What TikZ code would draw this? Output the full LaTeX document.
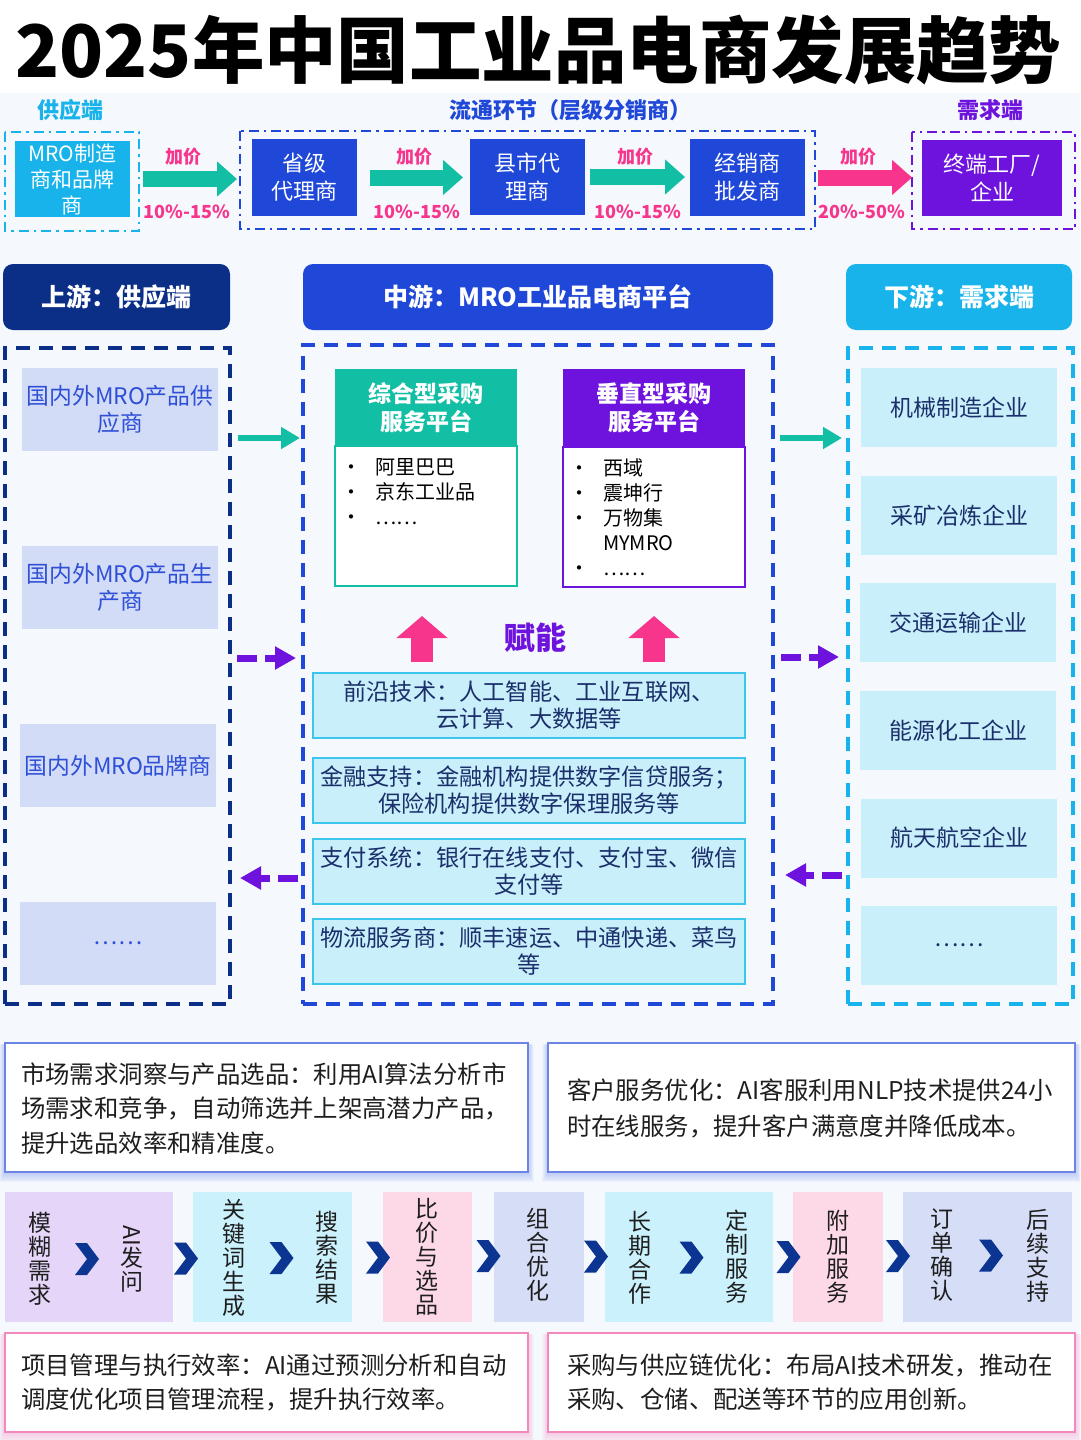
\documentclass[tikz,border=0pt]{standalone}
\usepackage{fontspec}
\usepackage{graphicx}
\setmainfont{Noto Sans CJK SC}
\usetikzlibrary{arrows.meta,calc}
\pgfdeclarelayer{back}
\pgfdeclarelayer{glow}
\pgfsetlayers{back,glow,main}
\definecolor{bgc}{HTML}{F5F8FD}
\definecolor{cyanM}{HTML}{17B3EA}
\definecolor{blueM}{HTML}{1F47D8}
\definecolor{purpleM}{HTML}{6E12DE}
\definecolor{tealM}{HTML}{12BFA5}
\definecolor{pinkM}{HTML}{F7358C}
\definecolor{navyM}{HTML}{0B2F86}
\definecolor{labelBlue}{HTML}{2E4FD6}
\definecolor{liteBlue}{HTML}{D2DCF7}
\definecolor{liteCyan}{HTML}{C9EFFB}
\definecolor{darkText}{HTML}{1B2F6B}
\definecolor{svcBorder}{HTML}{3CC6EE}
\definecolor{lavM}{HTML}{E5D5F8}
\definecolor{cyM}{HTML}{CBF1FC}
\definecolor{pkM}{HTML}{FDD9E8}
\definecolor{periM}{HTML}{D5DDF7}
\definecolor{chevc}{HTML}{0C3592}
\definecolor{noteBlue}{HTML}{3B5BDB}
\definecolor{notePink}{HTML}{F06AAE}
\definecolor{glowB}{HTML}{6F8CF0}
\definecolor{glowP}{HTML}{F58CC4}
\definecolor{inkM}{HTML}{1E1E1E}
\newcommand\FS[2]{\fontsize{#1}{#2}\selectfont}
\newcommand\bul{\makebox[34pt][l]{•}}
\begin{document}
\begin{tikzpicture}[x=1pt,y=-1pt,every node/.style={inner sep=0pt,outer sep=0pt}]
\tikzset{
 hbox/.style={fill=#1,text=white,align=center,font=\FS{21}{26}},
 lbl/.style={font=\bfseries\FS{22}{26}},
 addl/.style={text=pinkM,font=\bfseries\FS{18}{20}},
 barrow/.style={line width=16pt,-{Triangle[length=20pt,width=34pt]}},
 ddash/.style={line width=2.5pt,dash pattern=on 10pt off 5pt on 2.5pt off 5pt},
 colhead/.style={fill=#1,rounded corners=10pt,text=white,font=\bfseries\FS{25}{30},minimum height=66pt},
 cont/.style={draw=#1,line width=3.5pt,dash pattern=on 14pt off 9pt},
 litem/.style={fill=liteBlue,text=labelBlue,align=center,font=\FS{22.8}{27},minimum width=196pt,minimum height=83pt},
 ritem/.style={fill=liteCyan,text=darkText,font=\FS{23}{27},minimum width=196pt,minimum height=79pt},
 phead/.style={fill=#1,text=white,align=center,font=\bfseries\FS{23}{28},minimum width=182pt,minimum height=77pt},
 pbody/.style={draw=#1,line width=2pt,fill=white,minimum width=182pt,minimum height=140pt},
 plist/.style={align=left,font=\FS{20}{25},anchor=north west,text=black},
 svc/.style={fill=liteCyan,draw=svcBorder,line width=2pt,align=center,text=darkText,font=\FS{23.2}{27},minimum width=432pt,minimum height=65pt},
 thinarr/.style={line width=6pt,-{Triangle[length=19pt,width=21pt]}},
 dasharr/.style={line width=7pt,dash pattern=on 20pt off 8pt,-{Triangle[length=21pt,width=22pt]}},
 uparr/.style={line width=22pt,pinkM,-{Triangle[length=22pt,width=50pt]}},
 note/.style={fill=white,draw=#1,line width=1.5pt},
 notetxt/.style={anchor=west,align=left,text=inkM,font=\FS{24.4}{34.5}},
 grp/.style={fill=#1,minimum height=130pt},
 vtxt/.style={align=center,font=\FS{23}{24},text=inkM},
 chev/.pic={\fill[chevc] (-11,-16) -- (1,-16) -- (13,0) -- (1,16) -- (-11,16) -- (1,0) -- cycle;}
}
\useasboundingbox (0,0) rectangle (1080,1440);
\begin{pgfonlayer}{back}
\fill[bgc] (0,0) rectangle (1080,1440);
\fill[white] (0,0) rectangle (1080,93);
\end{pgfonlayer}

% title
\node (title) at (538.5,50) {\resizebox{1045pt}{!}{\bfseries 2025年中国工业品电商发展趋势}};

% header chain
\node[lbl,text=cyanM] (hsup) at (70,110) {供应端};
\node[lbl,text=blueM] (hcir) at (570,110) {流通环节（层级分销商）};
\node[lbl,text=purpleM] (hdem) at (990,110) {需求端};
\draw[ddash,cyanM] (5,132) rectangle (139,231);
\draw[ddash,blueM] (240,131) rectangle (815,229);
\draw[ddash,purpleM] (912,132) rectangle (1075,229);

\node[hbox=cyanM,minimum width=115pt,minimum height=76pt] (mro) at (72.5,179) {MRO制造\\商和品牌\\商};
\node[hbox=blueM,minimum width=105pt,minimum height=77pt,font=\FS{22}{28}] (prov) at (304.5,177.5) {省级\\代理商};
\node[hbox=blueM,minimum width=115pt,minimum height=76pt,font=\FS{22}{28}] (cnty) at (527.5,177) {县市代\\理商};
\node[hbox=blueM,minimum width=115pt,minimum height=77pt,font=\FS{22}{28}] (whol) at (747.5,177.5) {经销商\\批发商};
\node[hbox=purpleM,minimum width=140pt,minimum height=76pt,font=\FS{22}{28}] (term) at (992,178) {终端工厂/\\企业};

\draw[barrow,tealM,shorten <=13pt,shorten >=15pt] (mro.east) -- (mro.east -| prov.west);
\draw[barrow,tealM,shorten <=13pt,shorten >=7pt] (prov.east) -- (prov.east -| cnty.west);
\draw[barrow,tealM,shorten <=5pt,shorten >=5pt] (cnty.east) -- (cnty.east -| whol.west);
\draw[barrow,pinkM,shorten <=13pt,shorten >=10pt] (whol.east) -- (whol.east -| term.west);

\node[addl] (a1) at (183,157) {加价};
\node[addl] (a2) at (414,157) {加价};
\node[addl] (a3) at (635,157) {加价};
\node[addl] (a4) at (858,157) {加价};
\node[addl] (p1) at (187,212) {10\%-15\%};
\node[addl] (p2) at (417,212) {10\%-15\%};
\node[addl] (p3) at (638,212) {10\%-15\%};
\node[addl] (p4) at (862,212) {20\%-50\%};

% column heads
\node[colhead=navyM,minimum width=227pt] (uph) at (116.5,297) {上游：供应端};
\node[colhead=blueM,minimum width=470pt] (midh) at (538,297) {中游：MRO工业品电商平台};
\node[colhead=cyanM,minimum width=226pt] (dnh) at (959,297) {下游：需求端};

% containers
\node[cont=navyM,minimum width=225pt,minimum height=656pt] (Lbox) at (117.5,676) {};
\node[cont=blueM,minimum width=470pt,minimum height=659pt] (Mbox) at (538,674.5) {};
\node[cont=cyanM,minimum width=225pt,minimum height=656pt] (Rbox) at (960.5,676) {};

% left items
\node[litem] (L1) at (120,409.5) {国内外MRO产品供\\应商};
\node[litem] (L2) at (120,587.5) {国内外MRO产品生\\产商};
\node[litem] (L3) at (118,765.5) {国内外MRO品牌商};
\node[litem] (L4) at (118,943.5) {……};

% right items
\node[ritem] (R1) at (959,407.5) {机械制造企业};
\node[ritem] (R2) at (959,515.5) {采矿冶炼企业};
\node[ritem] (R3) at (958,622.5) {交通运输企业};
\node[ritem] (R4) at (958,730.5) {能源化工企业};
\node[ritem] (R5) at (959,838) {航天航空企业};
\node[ritem] (R6) at (959,945.5) {……};

% platforms
\node[pbody=tealM] (zbody) at (426,515.5) {};
\node[phead=tealM] (zhead) at (426,407.5) {综合型采购\\服务平台};
\node[plist] (zlist) at (341,458) {\bul 阿里巴巴\\\bul 京东工业品\\\bul ……};
\node[pbody=purpleM] (cbody) at (654,516.5) {};
\node[phead=purpleM] (chead) at (654,407.5) {垂直型采购\\服务平台};
\node[plist] (clist) at (569,459) {\bul 西域\\\bul 震坤行\\\bul 万物集\\\makebox[34pt][l]{}MYMRO\\\bul ……};

% empowerment
\coordinate (u1b) at (422,662);
\coordinate (u1t) at (422,616);
\coordinate (u2b) at (654,662);
\coordinate (u2t) at (654,616);
\draw[uparr] (u1b) -- (u1t);
\draw[uparr] (u2b) -- (u2t);
\node[text=purpleM,font=\bfseries\FS{31}{34}] (fn) at (535,638) {赋能};

\node[svc] (S1) at (529,705.5) {前沿技术：人工智能、工业互联网、\\云计算、大数据等};
\node[svc] (S2) at (529,790) {金融支持：金融机构提供数字信贷服务；\\保险机构提供数字保理服务等};
\node[svc] (S3) at (529,871) {支付系统：银行在线支付、支付宝、微信\\支付等};
\node[svc] (S4) at (529,951) {物流服务商：顺丰速运、中通快递、菜鸟\\等};

% column arrows
\coordinate (ta1) at (238,438); \coordinate (ta2) at (300,438);
\coordinate (tb1) at (780,438); \coordinate (tb2) at (842,438);
\coordinate (pa1) at (237,658); \coordinate (pa2) at (296,658);
\coordinate (pb1) at (781,657); \coordinate (pb2) at (839,657);
\coordinate (pc1) at (298,878); \coordinate (pc2) at (240,878);
\coordinate (pd1) at (842,875); \coordinate (pd2) at (785,875);
\draw[thinarr,tealM] (ta1) -- (ta2);
\draw[thinarr,tealM] (tb1) -- (tb2);
\draw[dasharr,purpleM] (pa1) -- (pa2);
\draw[dasharr,purpleM] (pb1) -- (pb2);
\draw[dasharr,purpleM] (pc1) -- (pc2);
\draw[dasharr,purpleM] (pd1) -- (pd2);

% notes
\node[note=noteBlue!75,minimum width=523pt,minimum height=129pt] (B1) at (266.5,1107.5) {};
\node[note=noteBlue!75,minimum width=527pt,minimum height=129pt] (B2) at (811.5,1107.5) {};
\node[note=notePink!80,minimum width=523pt,minimum height=99pt] (B3) at (266.5,1382.5) {};
\node[note=notePink!80,minimum width=527pt,minimum height=99pt] (B4) at (811.5,1382.5) {};
\begin{pgfonlayer}{glow}
\foreach \n/\c in {B1/glowB,B2/glowB,B3/glowP,B4/glowP}{
  \foreach \i in {1,...,8}{
    \fill[\c,opacity=0.06] ($(\n.north west)+(-\i*0.7,\i*0.2)$) rectangle ($(\n.south east)+(\i*0.7,\i*1.3)$);
  }}
\end{pgfonlayer}
\node[notetxt] (n1) at (21,1108.5) {市场需求洞察与产品选品：利用AI算法分析市\\场需求和竞争，自动筛选并上架高潜力产品，\\提升选品效率和精准度。};
\node[notetxt,font=\FS{24.4}{36}] (n2) at (567,1108) {客户服务优化：AI客服利用NLP技术提供24小\\时在线服务，提升客户满意度并降低成本。};
\node[notetxt,font=\FS{24.4}{34}] (n3) at (21,1382) {项目管理与执行效率：AI通过预测分析和自动\\调度优化项目管理流程，提升执行效率。};
\node[notetxt,font=\FS{24.4}{34}] (n4) at (567,1382) {采购与供应链优化：布局AI技术研发，推动在\\采购、仓储、配送等环节的应用创新。};

% chain
\node[grp=lavM,minimum width=168pt] (g1) at (89,1257) {};
\node[grp=cyM,minimum width=159pt] (g2) at (272.5,1257) {};
\node[grp=pkM,minimum width=89pt] (g3) at (427.5,1257) {};
\node[grp=periM,minimum width=90pt] (g4) at (539,1257) {};
\node[grp=cyM,minimum width=168pt] (g5) at (689,1257) {};
\node[grp=pkM,minimum width=90pt] (g6) at (838,1257) {};
\node[grp=periM,minimum width=169pt] (g7) at (987.5,1257) {};

\node[vtxt] (t1) at (40,1259) {模\\糊\\需\\求};
\node[vtxt] (t2) at (132,1259) {\rotatebox{-90}{AI}\\发\\问};
\node[vtxt] (t3) at (234,1258) {关\\键\\词\\生\\成};
\node[vtxt] (t4) at (327,1258) {搜\\索\\结\\果};
\node[vtxt] (t5) at (427,1257) {比\\价\\与\\选\\品};
\node[vtxt] (t6) at (538,1255) {组\\合\\优\\化};
\node[vtxt] (t7) at (640,1258) {长\\期\\合\\作};
\node[vtxt] (t8) at (737,1257) {定\\制\\服\\务};
\node[vtxt] (t9) at (838,1257) {附\\加\\服\\务};
\node[vtxt] (t10) at (942,1255) {订\\单\\确\\认};
\node[vtxt] (t11) at (1038,1256) {后\\续\\支\\持};
\foreach \a/\b/\d in {t1/t2/0,t2/t3/2,t3/t4/0,t4/t5/0,t5/t6/5,t6/t7/6,t7/t8/2,t8/t9/0,t9/t10/7,t10/t11/0}{
  \path ($(\a.center)!0.5!(\b.center)+(\d,0)$) coordinate (m-\a) pic {chev};
}
\end{tikzpicture}
\end{document}
